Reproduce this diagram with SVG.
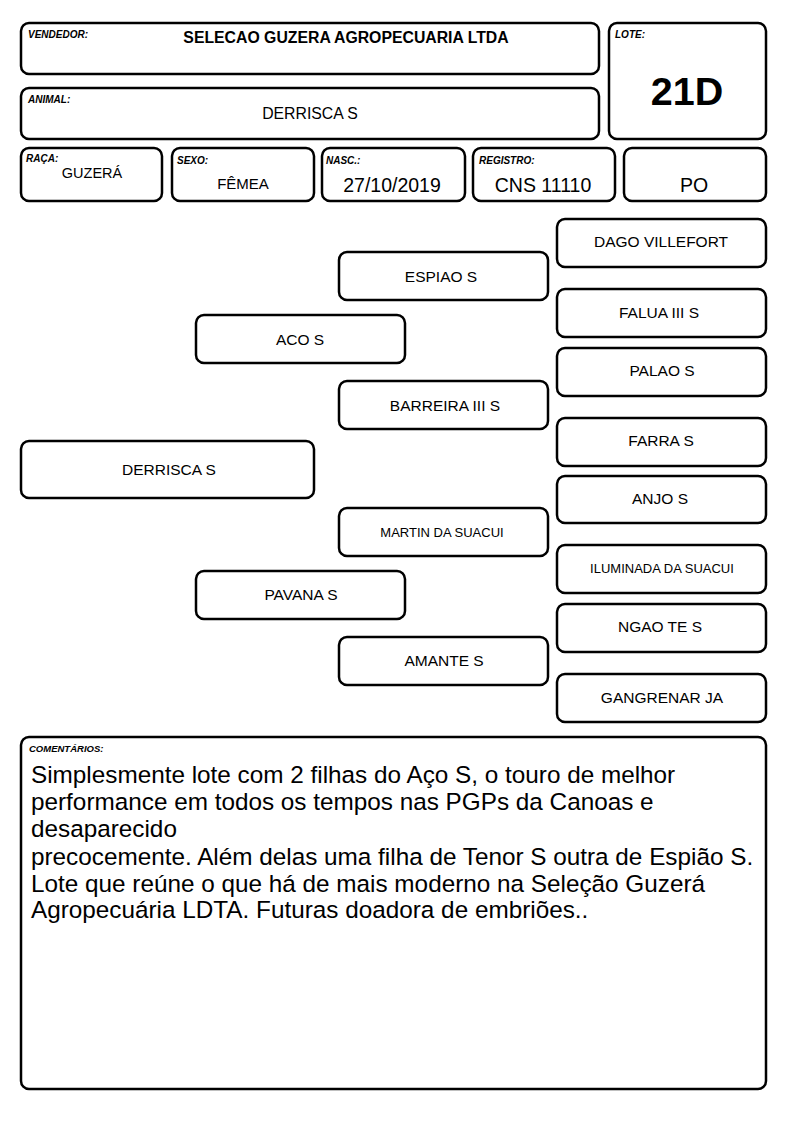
<svg xmlns="http://www.w3.org/2000/svg" width="794" height="1123" viewBox="0 0 794 1123">
<style>
rect{fill:#fff;stroke:#000;stroke-width:2.5}
text{font-family:"Liberation Sans",Arial,sans-serif;fill:#000}
.lb{font-size:10px;font-weight:bold;font-style:italic}
.v{font-size:15px;text-anchor:middle}
.p{font-size:15.5px;text-anchor:middle}
.s{font-size:13px;text-anchor:middle}
.d{font-size:19.5px;text-anchor:middle}
.c{font-size:24.3px}
</style>
<rect x="0" y="0" width="794" height="1123" style="fill:#fff;stroke:none"/>
<g id="vendedor"><rect x="21" y="23" width="578" height="51" rx="8"/><text class="lb" x="28" y="38">VENDEDOR:</text><text x="346" y="43" style="font-size:15.8px;font-weight:bold;text-anchor:middle">SELECAO GUZERA AGROPECUARIA LTDA</text></g>
<g id="animal"><rect x="21" y="88" width="578" height="51" rx="8"/><text class="lb" x="28" y="103">ANIMAL:</text><text x="310" y="119" style="font-size:15.8px;text-anchor:middle">DERRISCA S</text></g>
<g id="lote"><rect x="609" y="23" width="157" height="116" rx="8"/><text class="lb" x="615" y="38">LOTE:</text><text x="687" y="105" style="font-size:39.5px;font-weight:bold;text-anchor:middle">21D</text></g>
<g id="raca"><rect x="21" y="148" width="141" height="53" rx="8"/><text class="lb" x="26" y="162">RAÇA:</text><text class="v" x="92" y="178" style="font-size:14.5px">GUZERÁ</text></g>
<g id="sexo"><rect x="172" y="148" width="142" height="53" rx="8"/><text class="lb" x="177" y="164">SEXO:</text><text class="v" x="243" y="189">FÊMEA</text></g>
<g id="nasc"><rect x="322" y="148" width="143" height="53" rx="8"/><text class="lb" x="326" y="164">NASC.:</text><text class="d" x="392" y="192">27/10/2019</text></g>
<g id="registro"><rect x="473" y="148" width="142" height="53" rx="8"/><text class="lb" x="479" y="164">REGISTRO:</text><text class="d" x="543" y="192">CNS 11110</text></g>
<g id="po"><rect x="624" y="148" width="142" height="53" rx="8"/><text class="d" x="694" y="192">PO</text></g>
<g id="n-derrisca"><rect x="21" y="441" width="293" height="57" rx="8"/><text class="p" x="169" y="475">DERRISCA S</text></g>
<g id="n-aco"><rect x="196" y="315" width="209" height="48" rx="8"/><text class="p" x="300" y="345">ACO S</text></g>
<g id="n-pavana"><rect x="196" y="571" width="209" height="48" rx="8"/><text class="p" x="301" y="600">PAVANA S</text></g>
<g id="n-espiao"><rect x="339" y="252" width="209" height="48" rx="8"/><text class="p" x="441" y="282">ESPIAO S</text></g>
<g id="n-barreira"><rect x="339" y="381" width="209" height="48" rx="8"/><text class="p" x="445" y="411">BARREIRA III S</text></g>
<g id="n-martin"><rect x="339" y="508" width="209" height="48" rx="8"/><text class="s" x="442" y="537">MARTIN DA SUACUI</text></g>
<g id="n-amante"><rect x="339" y="637" width="209" height="48" rx="8"/><text class="p" x="444" y="666">AMANTE S</text></g>
<g id="n-dago"><rect x="557" y="219" width="209" height="48" rx="8"/><text class="p" x="661" y="247">DAGO VILLEFORT</text></g>
<g id="n-falua"><rect x="557" y="289" width="209" height="48" rx="8"/><text class="p" x="659" y="318">FALUA III S</text></g>
<g id="n-palao"><rect x="557" y="348" width="209" height="48" rx="8"/><text class="p" x="662" y="376">PALAO S</text></g>
<g id="n-farra"><rect x="557" y="418" width="209" height="48" rx="8"/><text class="p" x="661" y="446">FARRA S</text></g>
<g id="n-anjo"><rect x="557" y="476" width="209" height="47" rx="8"/><text class="p" x="660" y="504">ANJO S</text></g>
<g id="n-iluminada"><rect x="557" y="545" width="209" height="48" rx="8"/><text class="s" x="662" y="573">ILUMINADA DA SUACUI</text></g>
<g id="n-ngao"><rect x="557" y="604" width="209" height="48" rx="8"/><text class="p" x="660" y="632">NGAO TE S</text></g>
<g id="n-gangrenar"><rect x="557" y="674" width="209" height="48" rx="8"/><text class="p" x="662" y="703">GANGRENAR JA</text></g>
<g id="connectors"></g>
<g id="comentarios"><rect x="21" y="737" width="745" height="352" rx="8"/><text class="lb" x="29" y="752" style="font-size:9.5px">COMENTÁRIOS:</text>
<text class="c"><tspan x="31" y="783">Simplesmente lote com 2 filhas do Aço S, o touro de melhor</tspan><tspan x="31" y="810">performance em todos os tempos nas PGPs da Canoas e</tspan><tspan x="31" y="837">desaparecido</tspan><tspan x="31" y="865">precocemente. Além delas uma filha de Tenor S outra de Espião S.</tspan><tspan x="31" y="892">Lote que reúne o que há de mais moderno na Seleção Guzerá</tspan><tspan x="31" y="918">Agropecuária LDTA. Futuras doadora de embriões..</tspan></text></g>
</svg>
